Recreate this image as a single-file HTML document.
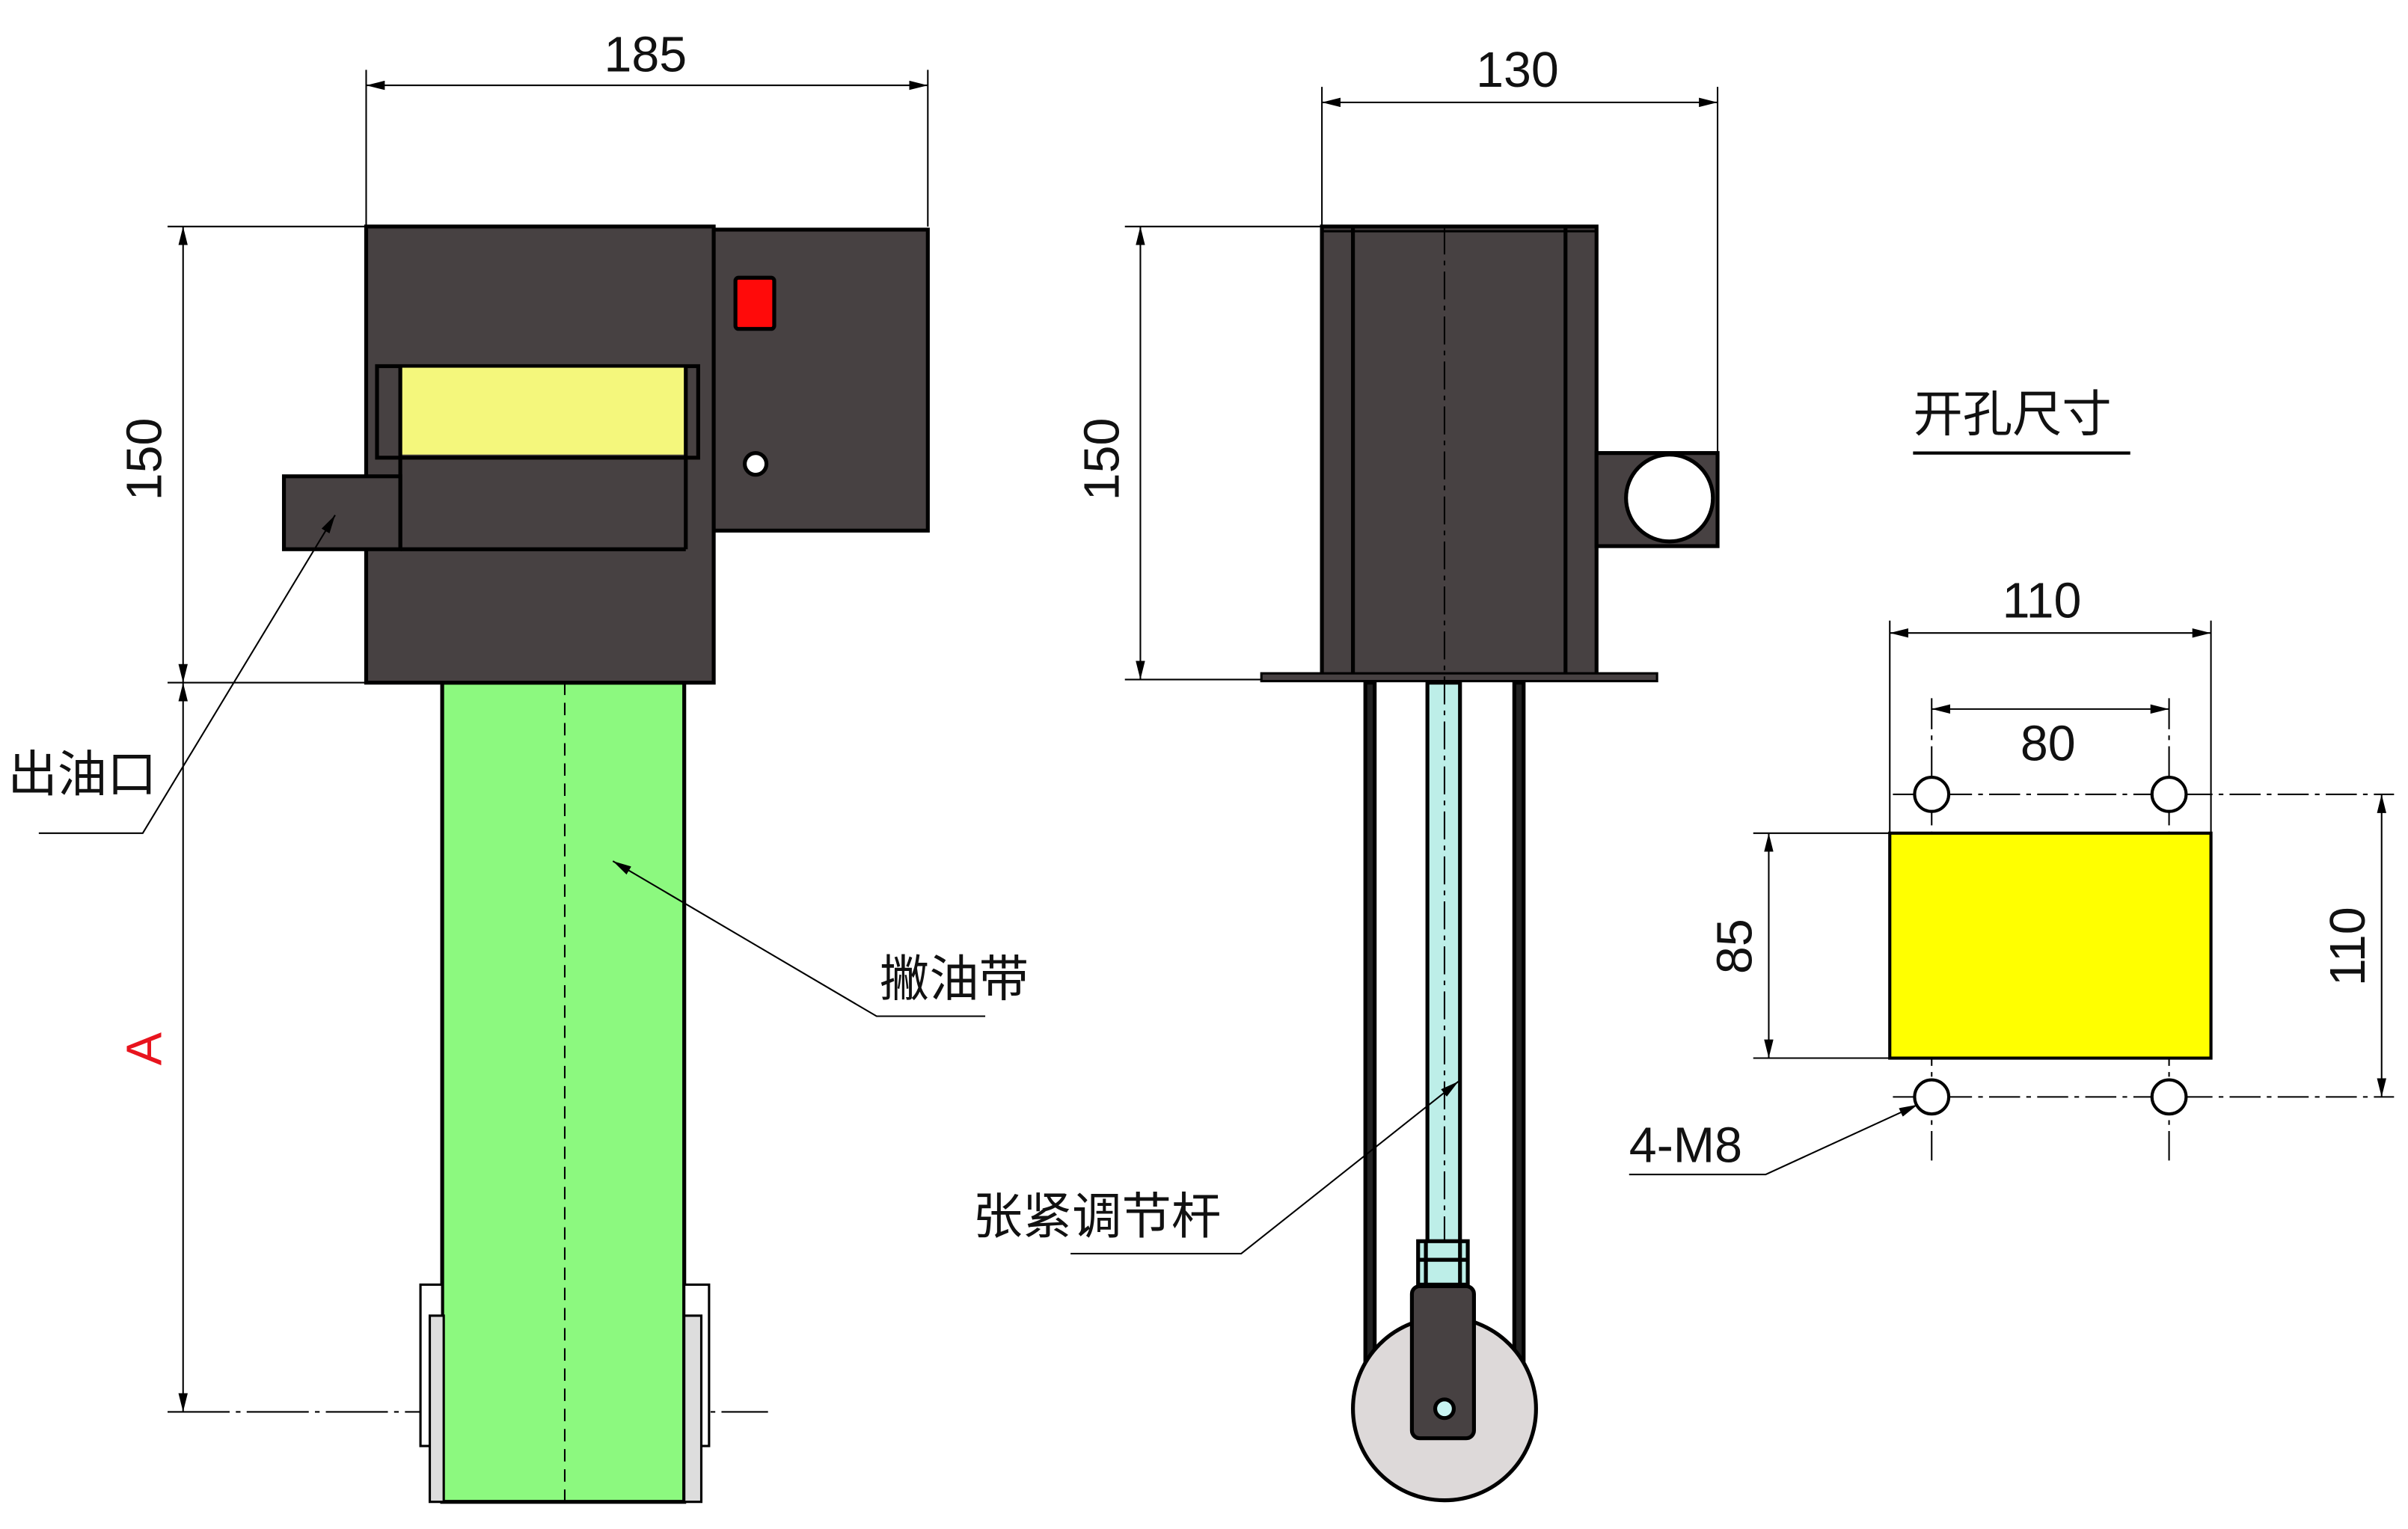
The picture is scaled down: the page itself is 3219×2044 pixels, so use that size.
<!DOCTYPE html>
<html><head><meta charset="utf-8"><style>
html,body{margin:0;padding:0;background:#fff;}
svg{display:block;}
text{font-family:"Liberation Sans","Noto Sans CJK SC",sans-serif;fill:#111;}
</style></head><body>
<svg width="3219" height="2044" viewBox="0 0 1552 985.5" preserveAspectRatio="none" xmlns="http://www.w3.org/2000/svg">
<defs>
<marker id="ar" viewBox="0 0 12 6" refX="12" refY="3" markerWidth="12" markerHeight="6" orient="auto" markerUnits="userSpaceOnUse"><path d="M0,0 L12,3 L0,6 z" fill="#000"/></marker>
<marker id="as" viewBox="0 0 12 6" refX="0" refY="3" markerWidth="12" markerHeight="6" orient="auto" markerUnits="userSpaceOnUse"><path d="M12,0 L0,3 L12,6 z" fill="#000"/></marker>
</defs>
<rect width="1552" height="985.5" fill="#fff"/>
<g stroke="#000" stroke-width="1" fill="none">
<line x1="236" y1="45" x2="236" y2="146"/><line x1="598" y1="45" x2="598" y2="146"/>
<line x1="236" y1="55" x2="598" y2="55" marker-start="url(#as)" marker-end="url(#ar)"/>
<line x1="108" y1="146" x2="236" y2="146"/><line x1="108" y1="440" x2="285" y2="440"/>
<line x1="118" y1="146" x2="118" y2="440" marker-start="url(#as)" marker-end="url(#ar)"/>
<line x1="118" y1="440" x2="118" y2="910" marker-start="url(#as)" marker-end="url(#ar)"/>
<line x1="108" y1="910" x2="495" y2="910" stroke-dasharray="40,4,3,4"/>
</g>
<g stroke="#000" stroke-width="2.5">
<rect x="285" y="440" width="156" height="528" fill="#8cf97f"/>
<rect x="236" y="146" width="224" height="294" fill="#474142"/>
<rect x="460" y="148" width="138" height="194" fill="#474142"/>
<rect x="474" y="179" width="25" height="33" rx="2" fill="#ff0a0a"/>
<circle cx="487" cy="299" r="7" fill="#fff"/>
<rect x="243" y="236" width="207" height="59" fill="#474142"/>
<rect x="258" y="237" width="183" height="56" fill="#f4f77c" stroke="none"/>
<line x1="258" y1="236" x2="258" y2="354"/><line x1="442" y1="236" x2="442" y2="354"/>
<line x1="258" y1="354" x2="442" y2="354"/>
<rect x="183" y="307" width="75" height="47" fill="#474142"/>
<rect x="271" y="828" width="14" height="104" fill="#fff" stroke-width="1.5"/>
<rect x="277" y="848" width="9" height="120" fill="#ddd" stroke-width="1.5"/>
<rect x="441" y="828" width="16" height="104" fill="#fff" stroke-width="1.5"/>
<rect x="441" y="848" width="11" height="120" fill="#ddd" stroke-width="1.5"/>
</g>
<line x1="364" y1="440" x2="364" y2="968" stroke="#000" stroke-width="1" stroke-dasharray="8,5"/>
<g stroke="#000" stroke-width="1" fill="none">
<polyline points="25,537 92,537 216,332" marker-end="url(#ar)"/>
<polyline points="635,655 565,655 395,555" marker-end="url(#ar)"/>
</g>
<text x="416" y="46" font-size="32" text-anchor="middle">185</text>
<text transform="translate(104,296) rotate(-90)" font-size="32" text-anchor="middle">150</text>
<text transform="translate(104,676) rotate(-90)" font-size="32" text-anchor="middle" style="fill:#e8141e">A</text>
<text x="5" y="510" font-size="32">出油口</text>
<text x="567" y="642" font-size="32">撇油带</text>

<g stroke="#000" stroke-width="1" fill="none">
<line x1="852" y1="56" x2="852" y2="146"/><line x1="1107" y1="56" x2="1107" y2="292"/>
<line x1="852" y1="66" x2="1107" y2="66" marker-start="url(#as)" marker-end="url(#ar)"/>
<line x1="725" y1="146" x2="852" y2="146"/><line x1="725" y1="438" x2="852" y2="438"/>
<line x1="735" y1="146" x2="735" y2="438" marker-start="url(#as)" marker-end="url(#ar)"/>
</g>
<g stroke="#000" stroke-width="2.5">
<rect x="880" y="440" width="6" height="440" fill="#222"/>
<rect x="976" y="440" width="6" height="440" fill="#222"/>
<rect x="920" y="440" width="21" height="362" fill="#bdeee8"/>
<rect x="852" y="146" width="177" height="292" fill="#474142"/>
<line x1="872" y1="146" x2="872" y2="438"/><line x1="1009" y1="146" x2="1009" y2="438"/>
<line x1="852" y1="149" x2="1029" y2="149" stroke-width="1.5"/>
<rect x="813" y="434" width="255" height="5" fill="#474142" stroke-width="1.5"/>
<rect x="1029" y="292" width="78" height="60" fill="#474142"/>
<circle cx="1076" cy="321" r="28" fill="#fff"/>
<circle cx="931" cy="908" r="59" fill="#ddd9d9"/>
<rect x="914" y="800" width="32" height="28" fill="#bdeee8"/>
<line x1="914" y1="812" x2="946" y2="812"/>
<line x1="919" y1="800" x2="919" y2="828"/><line x1="941" y1="800" x2="941" y2="828"/>
<rect x="910" y="829" width="40" height="98" rx="5" fill="#474142"/>
<circle cx="931" cy="908" r="6" fill="#c8f4f2"/>
</g>
<line x1="931" y1="146" x2="931" y2="800" stroke="#000" stroke-width="1" stroke-dasharray="18,4,3,4"/>
<polyline points="690,808 800,808 940,697" stroke="#000" stroke-width="1" fill="none" marker-end="url(#ar)"/>
<text x="978" y="56" font-size="32" text-anchor="middle">130</text>
<text transform="translate(721,296) rotate(-90)" font-size="32" text-anchor="middle">150</text>
<text x="627" y="795" font-size="32">张紧调节杆</text>

<text x="1233" y="278" font-size="32">开孔尺寸</text>
<line x1="1233" y1="292" x2="1373" y2="292" stroke="#000" stroke-width="2"/>
<g stroke="#000" stroke-width="1" fill="none">
<line x1="1218" y1="400" x2="1218" y2="537"/><line x1="1425" y1="400" x2="1425" y2="537"/>
<line x1="1218" y1="408" x2="1425" y2="408" marker-start="url(#as)" marker-end="url(#ar)"/>
<line x1="1245" y1="457" x2="1398" y2="457" marker-start="url(#as)" marker-end="url(#ar)"/>
<line x1="1130" y1="537" x2="1218" y2="537"/><line x1="1130" y1="682" x2="1218" y2="682"/>
<line x1="1140" y1="537" x2="1140" y2="682" marker-start="url(#as)" marker-end="url(#ar)"/>
<line x1="1535" y1="512" x2="1535" y2="707" marker-start="url(#as)" marker-end="url(#ar)"/>
<g stroke-dasharray="20,4,3,4">
<line x1="1220" y1="512" x2="1543" y2="512"/><line x1="1220" y1="707" x2="1543" y2="707"/>
<line x1="1245" y1="450" x2="1245" y2="748"/><line x1="1398" y1="450" x2="1398" y2="748"/>
</g>
</g>
<rect x="1218" y="537" width="207" height="145" fill="#ffff00" stroke="#000" stroke-width="2"/>
<g stroke="#000" stroke-width="2" fill="#fff">
<circle cx="1245" cy="512" r="11"/><circle cx="1398" cy="512" r="11"/>
<circle cx="1245" cy="707" r="11"/><circle cx="1398" cy="707" r="11"/>
</g>
<polyline points="1050,757 1138,757 1236,712" stroke="#000" stroke-width="1" fill="none" marker-end="url(#ar)"/>
<text x="1316" y="398" font-size="32" text-anchor="middle">110</text>
<text x="1320" y="490" font-size="32" text-anchor="middle">80</text>
<text transform="translate(1129,610) rotate(-90)" font-size="32" text-anchor="middle">85</text>
<text transform="translate(1524,610) rotate(-90)" font-size="32" text-anchor="middle">110</text>
<text x="1050" y="749" font-size="32">4-M8</text>
</svg>
</body></html>
